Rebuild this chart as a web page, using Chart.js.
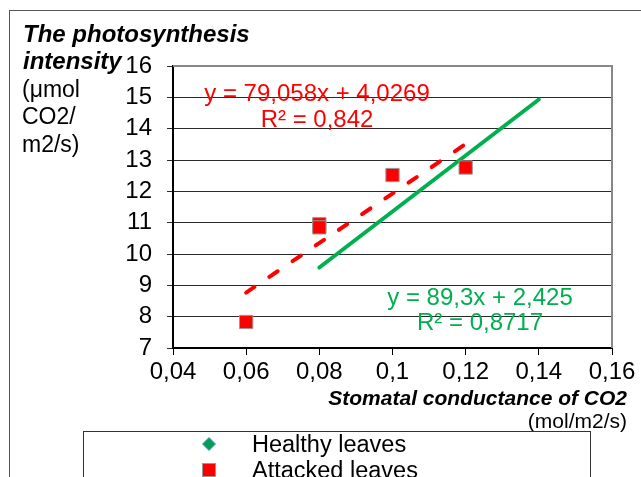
<!DOCTYPE html>
<html>
<head>
<meta charset="utf-8">
<script src="https://cdn.jsdelivr.net/npm/chart.js@4.4.1/dist/chart.umd.min.js"></script>
<style>
  html, body { margin: 0; padding: 0; background: #fff; }
  canvas { display: block; }
</style>
</head>
<body>
<canvas id="c" width="641" height="477"></canvas>
<script>
// ---- data ----
const seriesNames = ['Healthy leaves', 'Attacked leaves'];
const healthyX = [];            // healthy markers are not visible in the picture
const healthyY = [];
const attackedX = [0.06, 0.08, 0.08, 0.10, 0.12];
const attackedY = [7.83, 10.95, 10.85, 12.52, 12.76];
const healthyTrendX = [0.08, 0.14];
const healthyTrendY = [9.57, 14.93];
const attackedTrendX = [0.06, 0.12];
const attackedTrendY = [8.77, 13.51];
const healthyEquation = ['y = 89,3x + 2,425', 'R² = 0,8717'];
const attackedEquation = ['y = 79,058x + 4,0269', 'R² = 0,842'];
const yTitleLines = ['The photosynthesis', 'intensity'];
const yUnitLines = ['(μmol', 'CO2/', 'm2/s)'];
const xTitle = 'Stomatal conductance of CO2';
const xUnit = '(mol/m2/s)';
const xMin = 0.04, xMax = 0.16, xStep = 0.02;
const yMin = 7, yMax = 16, yStep = 1;

const FONT = '"Liberation Sans", Arial, sans-serif';
const pts = (xs, ys) => xs.map((x, i) => ({ x: x, y: ys[i] }));
const fmt = v => String(Math.round(v * 100) / 100).replace('.', ',');

const decor = {
  id: 'decor',
  beforeDraw(chart) {
    const ctx = chart.ctx;
    ctx.save();
    ctx.fillStyle = '#fff';
    ctx.fillRect(0, 0, chart.width, chart.height);
    // outer chart border
    ctx.strokeStyle = '#555';
    ctx.lineWidth = 1;
    ctx.strokeRect(9.5, 10.5, 700, 600);
    // y title
    ctx.fillStyle = '#000';
    ctx.textAlign = 'left';
    ctx.textBaseline = 'alphabetic';
    ctx.font = 'italic bold 24px ' + FONT;
    ctx.fillText(yTitleLines[0], 23, 42);
    ctx.fillText(yTitleLines[1], 23, 69);
    ctx.font = '23px ' + FONT;
    ctx.fillText(yUnitLines[0], 22, 97);
    ctx.fillText(yUnitLines[1], 22, 124);
    ctx.fillText(yUnitLines[2], 22, 152);
    // x title
    ctx.textAlign = 'right';
    ctx.font = 'italic bold 21px ' + FONT;
    ctx.fillText(xTitle, 627, 405);
    ctx.font = '21px ' + FONT;
    ctx.fillText(xUnit, 627, 428);
    // legend box
    ctx.strokeStyle = '#333';
    ctx.strokeRect(83.5, 431.5, 507, 100);
    const ds = chart.data.datasets;
    // healthy marker (diamond)
    ctx.beginPath();
    ctx.moveTo(209, 437.5); ctx.lineTo(215.5, 444); ctx.lineTo(209, 450.5); ctx.lineTo(202.5, 444); ctx.closePath();
    ctx.fillStyle = '#00a050';
    ctx.fill();
    ctx.strokeStyle = '#5b8fd0';
    ctx.stroke();
    // attacked marker (square)
    ctx.fillStyle = '#ff0000';
    ctx.fillRect(202.5, 463.5, 13, 13);
    ctx.strokeStyle = '#999';
    ctx.strokeRect(202.5, 463.5, 13, 13);
    ctx.fillStyle = '#000';
    ctx.textAlign = 'left';
    ctx.font = '23.5px ' + FONT;
    ctx.fillText(ds[0].label, 252, 452);
    ctx.fillText(ds[1].label, 252, 478);
    ctx.restore();
  },
  beforeDatasetsDraw(chart) {
    const ctx = chart.ctx, a = chart.chartArea;
    ctx.save();
    ctx.strokeStyle = '#888';
    ctx.lineWidth = 2;
    ctx.beginPath();
    ctx.moveTo(a.left, a.top);
    ctx.lineTo(a.right, a.top);
    ctx.lineTo(a.right, a.bottom);
    ctx.stroke();
    ctx.restore();
  },
  afterDraw(chart) {
    const ctx = chart.ctx;
    ctx.save();
    ctx.textAlign = 'center';
    ctx.textBaseline = 'alphabetic';
    ctx.font = '24px ' + FONT;
    ctx.fillStyle = '#ff0000';
    ctx.fillText(attackedEquation[0], 317, 101);
    ctx.fillText(attackedEquation[1], 317, 127);
    ctx.fillStyle = '#00b050';
    ctx.fillText(healthyEquation[0], 480, 305);
    ctx.fillText(healthyEquation[1], 480, 330);
    ctx.restore();
  }
};

new Chart(document.getElementById('c'), {
  type: 'scatter',
  data: {
    datasets: [
      { label: seriesNames[0], data: pts(healthyX, healthyY), pointStyle: 'rectRot',
        backgroundColor: '#00a050', borderColor: '#5b8fd0', pointRadius: 7, borderWidth: 1 },
      { label: seriesNames[1], data: pts(attackedX, attackedY), pointStyle: 'rect',
        backgroundColor: '#ff0000', borderColor: '#999', pointRadius: 9.4, borderWidth: 1 },
      { label: 'Healthy trend', type: 'line', data: pts(healthyTrendX, healthyTrendY),
        borderColor: '#00b050', borderWidth: 4, pointRadius: 0, borderCapStyle: 'round', fill: false },
      { label: 'Attacked trend', type: 'line', data: pts(attackedTrendX, attackedTrendY),
        borderColor: '#ff0000', borderWidth: 4, pointRadius: 0, borderDash: [10, 18],
        borderCapStyle: 'round', fill: false }
    ]
  },
  options: {
    responsive: false,
    animation: false,
    devicePixelRatio: 1,
    layout: { padding: { top: 66, right: 29, left: 0, bottom: 0 } },
    plugins: { legend: { display: false }, tooltip: { enabled: false }, title: { display: false } },
    scales: {
      x: {
        type: 'linear', min: xMin, max: xMax,
        ticks: { stepSize: xStep, callback: fmt, color: '#000', font: { family: FONT, size: 24 }, padding: 3, maxRotation: 0, autoSkip: false },
        grid: { drawOnChartArea: false, drawTicks: true, tickLength: 7, color: '#000', lineWidth: 1 },
        border: { color: '#000', width: 2 },
        afterFit(s) { s.height = 129; }
      },
      y: {
        type: 'linear', min: yMin, max: yMax,
        ticks: { stepSize: yStep, color: '#000', font: { family: FONT, size: 24 }, padding: 15, autoSkip: false },
        grid: { color: '#2a2a2a', lineWidth: 1, tickLength: 6, drawTicks: true },
        border: { color: '#000', width: 2 },
        afterFit(s) { s.width = 173; }
      }
    }
  },
  plugins: [decor]
});
</script>
</body>
</html>
